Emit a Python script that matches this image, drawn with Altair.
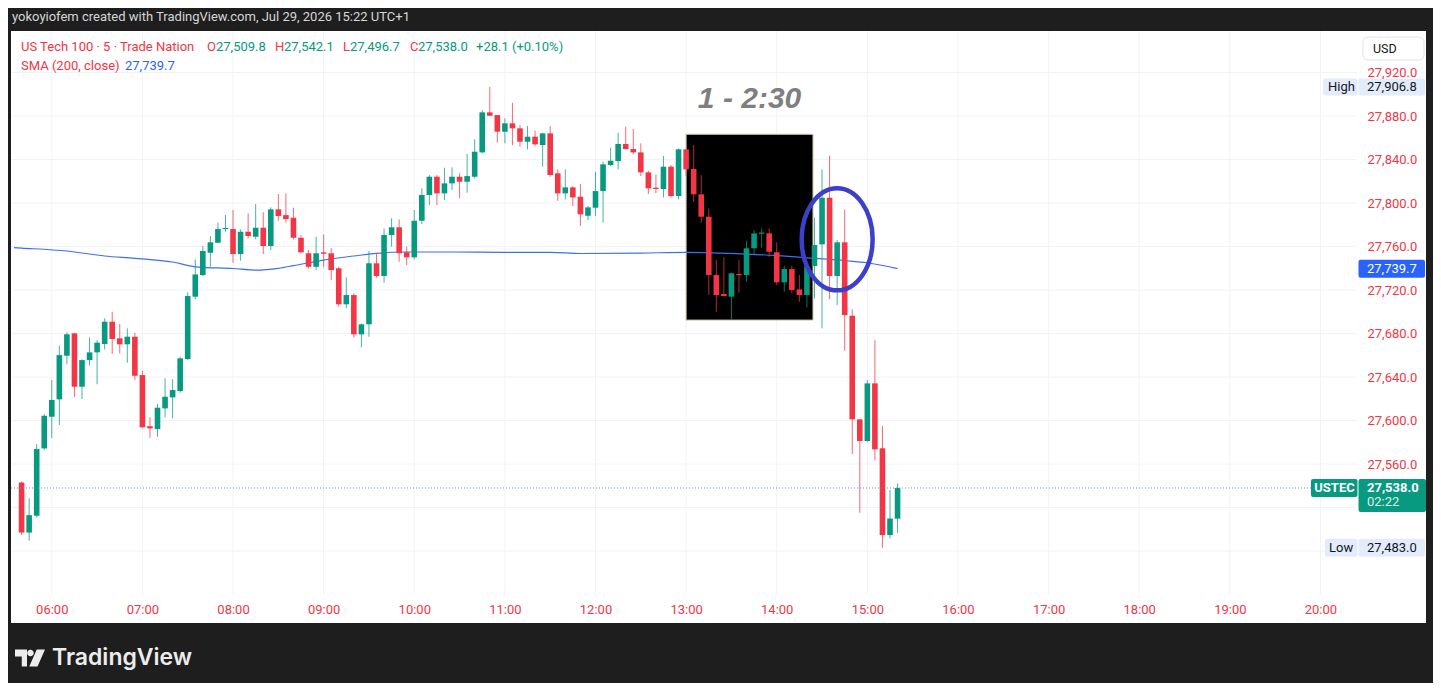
import altair as alt
import pandas as pd

# ---------------- data ----------------
CANDLE_START = "05:40"          # first 5-minute candle
opens = [27543, 27497, 27512.5, 27574.4, 27603.5, 27619.5, 27659.6, 27680.2, 27631.1, 27655.6,
         27662.7, 27670.4, 27690.9, 27675.6, 27670.1, 27677.1, 27641.8, 27594.8, 27592.2, 27611.2,
         27621.3, 27627.1, 27656.6, 27713.9, 27733.8, 27754.3, 27763.5, 27776.1, 27776.1, 27753.1,
         27773.6, 27769.0, 27777.3, 27760.5, 27794.2, 27788.9, 27786.5, 27768.1, 27753.8, 27741.4,
         27754.7, 27753.8, 27740.0, 27706.9, 27715.4, 27679.3, 27688.5, 27744.6, 27732.9, 27770.6,
         27777.7, 27754.7, 27750.1, 27783.7, 27807.4, 27824.2, 27808.9, 27818.1, 27824.2, 27819.6,
         27824.2, 27846.6, 27883.4, 27880.9, 27865.6, 27873.3, 27868.7, 27856.4, 27861.0, 27853.3,
         27864.1, 27827.3, 27808.9, 27814.4, 27805.8, 27788.3, 27795.7, 27811.0, 27835.0, 27838.6,
         27854.3, 27849.7, 27846.6, 27828.2, 27814.1, 27812.9, 27833.4, 27806.4, 27849.4, 27831.3,
         27808.0, 27787.4, 27733.8, 27716.3, 27713.9, 27734.7, 27733.8, 27758.4, 27771.8, 27772.1,
         27754.7, 27727.1, 27739.3, 27720.6, 27715.4, 27742.1, 27762.0, 27804.9, 27732.9, 27763.9,
         27696.4, 27601.1, 27581.2, 27634.2, 27574.5, 27494.7, 27509.8]
highs = [27544, 27528.5, 27578.4, 27606.0, 27637.3, 27668.8, 27681.0, 27680.7, 27656.3, 27676.5,
         27674.0, 27694.0, 27700.0, 27688.7, 27684.8, 27680.7, 27645.8, 27603.0, 27615.2, 27638.8,
         27638.0, 27658.7, 27717.9, 27748.2, 27760.5, 27769.7, 27781.9, 27789.0, 27793.6, 27775.8,
         27790.5, 27799.1, 27791.5, 27796.0, 27808.3, 27808.9, 27795.7, 27770.6, 27756.8, 27769.0,
         27771.2, 27758.4, 27741.4, 27731.7, 27717.0, 27689.4, 27755.9, 27753.8, 27776.7, 27786.0,
         27785.0, 27760.0, 27793.6, 27813.5, 27825.7, 27825.7, 27832.5, 27832.8, 27827.3, 27845.1,
         27858.6, 27885.5, 27906.8, 27880.9, 27877.9, 27892.2, 27871.7, 27870.8, 27866.5, 27864.7,
         27870.8, 27831.0, 27831.0, 27815.6, 27817.5, 27797.2, 27828.8, 27838.0, 27850.9, 27864.6,
         27870.2, 27868.0, 27854.9, 27829.7, 27826.4, 27843.2, 27835.0, 27850.3, 27849.4, 27853.3,
         27825.7, 27795.1, 27747.6, 27750.0, 27736.0, 27747.6, 27765.3, 27775.2, 27776.7, 27776.7,
         27763.9, 27742.4, 27742.4, 27733.8, 27741.4, 27786.5, 27831.0, 27843.5, 27766.0, 27794.2,
         27702.3, 27601.1, 27637.3, 27674.0, 27595.0, 27536.1, 27542.1]
lows = [27495, 27489.5, 27511.0, 27572.8, 27583.9, 27595.9, 27651.7, 27621.9, 27619.8, 27650.4,
        27633.3, 27665.5, 27661.2, 27661.8, 27653.2, 27637.3, 27593.4, 27584.2, 27585.1, 27603.0,
        27602.0, 27625.6, 27655.6, 27711.5, 27732.9, 27741.4, 27763.0, 27773.6, 27745.1, 27747.0,
        27767.5, 27766.6, 27753.1, 27756.8, 27783.7, 27781.9, 27766.6, 27753.8, 27740.0, 27738.4,
        27740.9, 27729.2, 27704.7, 27703.2, 27676.2, 27667.3, 27677.0, 27731.3, 27726.7, 27759.8,
        27746.0, 27743.0, 27748.2, 27780.7, 27798.2, 27798.2, 27802.8, 27812.0, 27804.3, 27809.5,
        27822.7, 27845.7, 27880.3, 27855.5, 27854.9, 27853.3, 27851.8, 27849.4, 27852.4, 27833.4,
        27824.2, 27802.1, 27803.4, 27797.2, 27778.9, 27784.4, 27788.0, 27781.9, 27834.0, 27831.0,
        27849.7, 27844.8, 27824.8, 27808.3, 27808.9, 27805.2, 27805.2, 27803.4, 27824.8, 27801.2,
        27781.9, 27715.4, 27700.0, 27714.0, 27692.4, 27717.5, 27727.6, 27753.1, 27758.9, 27750.6,
        27724.6, 27718.4, 27717.0, 27709.2, 27704.0, 27712.4, 27684.8, 27711.5, 27706.2, 27664.2,
        27569.2, 27515.2, 27580.5, 27563.7, 27483.0, 27491.7, 27496.7]
closes = [27497, 27513.0, 27573.8, 27604.4, 27618.9, 27660.2, 27679.3, 27631.1, 27655.6, 27662.7,
          27671.6, 27690.9, 27675.0, 27670.1, 27677.1, 27641.2, 27593.8, 27592.8, 27611.8, 27621.9,
          27628.1, 27657.2, 27714.5, 27734.4, 27755.9, 27763.9, 27776.1, 27777.0, 27753.1, 27773.6,
          27769.7, 27777.3, 27760.5, 27794.2, 27788.1, 27785.3, 27768.1, 27754.7, 27741.4, 27753.8,
          27753.4, 27738.4, 27706.9, 27715.4, 27679.3, 27688.5, 27744.6, 27732.9, 27770.6, 27777.7,
          27753.8, 27750.1, 27783.7, 27807.4, 27824.2, 27808.9, 27818.1, 27824.2, 27819.6, 27824.8,
          27847.2, 27883.4, 27880.3, 27865.6, 27873.3, 27868.7, 27856.4, 27861.0, 27854.0, 27864.1,
          27825.8, 27808.9, 27814.4, 27805.2, 27789.6, 27796.0, 27811.0, 27835.6, 27838.9, 27854.3,
          27849.7, 27846.6, 27828.2, 27813.5, 27812.9, 27833.4, 27806.4, 27849.4, 27831.0, 27808.0,
          27787.4, 27733.8, 27715.4, 27714.5, 27735.4, 27733.8, 27758.4, 27772.1, 27772.8, 27755.2,
          27727.1, 27739.3, 27720.0, 27715.4, 27741.4, 27761.4, 27804.9, 27732.9, 27763.9, 27697.0,
          27601.1, 27581.2, 27634.2, 27573.5, 27494.7, 27509.9, 27538.0]

sma_times = ["05:35", "05:40", "06:10", "06:35", "06:55", "07:20", "07:35", "08:00", "08:15", "08:30",
             "08:40", "09:00", "09:20", "09:35", "09:55", "10:25", "11:00", "11:30", "11:50",
             "12:30", "13:00", "13:40", "14:00", "14:25", "14:45", "15:00", "15:20"]
sma_vals = [27759.0, 27758.6, 27755.9, 27751.3, 27749.2, 27745.8, 27741.4, 27739.8, 27738.4, 27740.0,
            27742.4, 27747.6, 27751.3, 27753.8, 27755.0, 27755.0, 27754.7, 27754.7, 27753.6,
            27754.0, 27754.7, 27753.1, 27751.7, 27749.2, 27747.1, 27745.1, 27739.7]

price_ticks = [27560, 27600, 27640, 27680, 27720, 27760, 27800, 27840, 27880, 27920]
grid_prices = [27480, 27520, 27560, 27600, 27640, 27680, 27720, 27760, 27800, 27840, 27880, 27920]
time_ticks = ["06:00", "07:00", "08:00", "09:00", "10:00", "11:00", "12:00", "13:00",
              "14:00", "15:00", "16:00", "17:00", "18:00", "19:00", "20:00"]

session_high = 27906.8
session_low = 27483.0
countdown = "02:22"
symbol = "USTEC"
header_title = "US Tech 100 · 5 · Trade Nation"
sma_label = "SMA (200, close)"
credit = "yokoyiofem created with TradingView.com, Jul 29, 2026 15:22 UTC+1"
note_text = "1 - 2:30"
box_times = ["13:00", "14:24"]
box_prices = [27863.2, 27692.4]
ellipse_time = "14:40"
ellipse_price = 27766.6
note_time = "13:42"
note_price = 27895.5

# ---------------- style / layout ----------------
UP = "#089981"
DOWN = "#f23645"
RED_TXT = "#f23645"
BLUE = "#2962ff"
FONT = "Roboto"
W, H = 1346, 564
Y_DOM = [27439.6, 27958.2]
X_DOM = [336.3, 1220.9]
PX = (Y_DOM[1] - Y_DOM[0]) / H  # price per pixel


def mins(s):
    h, m = s.split(":")
    return int(h) * 60 + int(m)


xscale = alt.Scale(domain=X_DOM, nice=False, zero=False)
yscale = alt.Scale(domain=Y_DOM, nice=False, zero=False)
x_axis = alt.Axis(values=[mins(t) for t in time_ticks],
                  labelExpr="(floor(datum.value/60) < 10 ? '0' : '') + floor(datum.value/60) + ':00'",
                  labelColor=RED_TXT, labelFont=FONT, labelFontSize=13, ticks=False, domain=False,
                  grid=False, labelPadding=8, title=None, zindex=1, labelFlush=False,
                  labelOverlap=False)
y_axis = alt.Axis(orient="right", values=price_ticks, format=",.1f", labelColor=RED_TXT,
                  labelFont=FONT, labelFontSize=13, ticks=False, domain=False, grid=False,
                  labelPadding=10, title=None, zindex=1, labelOverlap=False)


def X(f):
    return alt.X(f, type="quantitative", scale=xscale, axis=x_axis)


def Y(f):
    return alt.Y(f, type="quantitative", scale=yscale, axis=y_axis)


one = pd.DataFrame({"a": [0]})
layers = []

# white chart panel
layers.append(alt.Chart(one).mark_rect(color="#ffffff").encode(
    x=alt.value(0), x2=alt.value(1415), y=alt.value(0), y2=alt.value(592)))

# grid
layers.append(alt.Chart(pd.DataFrame({"p": grid_prices})).mark_rule(color="#f2f3f6", strokeWidth=1).encode(
    x=alt.value(0), x2=alt.value(W), y=Y("p")))
layers.append(alt.Chart(pd.DataFrame({"t": [mins(t) for t in time_ticks]})).mark_rule(
    color="#f2f3f6", strokeWidth=1).encode(x=X("t"), y=alt.value(0), y2=alt.value(H)))

# black highlight box
box_df = pd.DataFrame({"t0": [mins(box_times[0])], "t1": [mins(box_times[1])],
                       "p0": [box_prices[0]], "p1": [box_prices[1]]})
layers.append(alt.Chart(box_df).mark_rect(fill="#000000", stroke="#cbbfa8", strokeWidth=1).encode(
    x=X("t0"), x2=alt.X2("t1"), y=Y("p0"), y2=alt.Y2("p1")))

# SMA
sma_df = pd.DataFrame({"t": [mins(t) for t in sma_times], "v": sma_vals})
layers.append(alt.Chart(sma_df).mark_line(color="#3d6ff2", strokeWidth=1.2, interpolate="monotone",
                                          clip=True).encode(
    x=X("t"), y=Y("v")))

# candles
t0 = mins(CANDLE_START)
df = pd.DataFrame({"t": [t0 + 5 * i for i in range(len(opens))], "o": opens, "h": highs,
                   "l": lows, "c": closes})
df["dir"] = ["up" if c >= o else "down" for o, c in zip(df.o, df.c)]
df["bt"] = df[["o", "c"]].max(axis=1)
df["bb"] = df[["o", "c"]].min(axis=1)
mid = (df.bt + df.bb) / 2
small = (df.bt - df.bb) < 1.2 * PX
df.loc[small, "bt"] = mid[small] + 0.6 * PX
df.loc[small, "bb"] = mid[small] - 0.6 * PX
color = alt.Color("dir:N", scale=alt.Scale(domain=["up", "down"], range=[UP, DOWN]), legend=None)

layers.append(alt.Chart(df).mark_rule(strokeWidth=1, opacity=0.75).encode(
    x=X("t"), y=Y("l"), y2=alt.Y2("h"), color=color))
layers.append(alt.Chart(df).mark_bar(size=5.6).encode(
    x=X("t"), y=Y("bb"), y2=alt.Y2("bt"), color=color))

last_close = closes[-1]
# last price dotted line
layers.append(alt.Chart(pd.DataFrame({"p": [last_close]})).mark_rule(
    color="#6a8cd8", strokeDash=[1, 2], strokeWidth=1).encode(
    x=alt.value(0), x2=alt.value(1300), y=Y("p")))

# ellipse annotation
a, b, k = 0.696, 1.0, 0.5523
ka, kb = k * a, k * b
ell_path = (f"M{a},0 C{a},{kb} {ka},{b} 0,{b} C{-ka},{b} {-a},{kb} {-a},0 "
            f"C{-a},{-kb} {-ka},{-b} 0,{-b} C{ka},{-b} {a},{-kb} {a},0 Z")
layers.append(alt.Chart(pd.DataFrame({"t": [mins(ellipse_time)], "p": [ellipse_price]})).mark_point(
    shape=ell_path, filled=False, stroke="#3b3fc9", strokeWidth=4.5, opacity=1, size=10404).encode(
    x=X("t"), y=Y("p")))

# note text
layers.append(alt.Chart(pd.DataFrame({"t": [mins(note_time)], "p": [note_price], "s": [note_text]})).mark_text(
    font="Liberation Sans", fontSize=30, fontStyle="italic", fontWeight="bold", color="#7f7f7f",
    align="center", baseline="middle").encode(x=X("t"), y=Y("p"), text="s:N"))


# --- price scale labels ---
def price_box(price, up, down, x0, x1, fill, stroke=None):
    d = pd.DataFrame({"p0": [price + up * PX], "p1": [price - down * PX]})
    kw = dict(fill=fill, cornerRadius=2)
    if stroke:
        kw["stroke"] = stroke
    return alt.Chart(d).mark_rect(**kw).encode(
        x=alt.value(x0), x2=alt.value(x1), y=Y("p0"), y2=alt.Y2("p1"))


def price_text(price, x, text, col, size=13, weight="normal", align="left", dy=0, opacity=1.0):
    d = pd.DataFrame({"p": [price], "s": [text]})
    return alt.Chart(d).mark_text(font=FONT, fontSize=size, fontWeight=weight, color=col,
                                  align=align, baseline="middle", dy=dy, opacity=opacity).encode(
        x=alt.value(x), y=Y("p"), text="s:N")


def fmt(v):
    return f"{v:,.1f}"


LB = "#e3ecfb"
layers += [
    price_box(session_high, 8.5, 8.5, 1312, 1346.5, LB),
    price_box(session_high, 8.5, 8.5, 1347.5, 1414, LB),
    price_text(session_high, 1317, "High", "#131722"),
    price_text(session_high, 1356, fmt(session_high), "#131722"),
    price_box(sma_vals[-1], 9, 9, 1347.5, 1414, BLUE),
    price_text(sma_vals[-1], 1356, fmt(sma_vals[-1]), "#ffffff"),
    price_box(last_close, 9, 9, 1300, 1346.5, UP),
    price_box(last_close, 9, 24, 1347.5, 1415, UP),
    price_text(last_close, 1323.5, symbol, "#ffffff", weight="bold", align="center"),
    price_text(last_close, 1356, fmt(last_close), "#ffffff", weight="bold"),
    price_text(last_close, 1356, countdown, "#ffffff", dy=14, opacity=0.85),
    price_box(session_low, 9, 9, 1314, 1346.5, LB),
    price_box(session_low, 9, 9, 1347.5, 1414, LB),
    price_text(session_low, 1318, "Low", "#131722"),
    price_text(session_low, 1356, fmt(session_low), "#131722"),
]

# USD button
layers.append(alt.Chart(one).mark_rect(fill="#ffffff", stroke="#e0e3eb", cornerRadius=5).encode(
    x=alt.value(1352), x2=alt.value(1413), y=alt.value(6), y2=alt.value(29)))


def ptext(x, y, text, col, size=13, weight="normal", font=FONT):
    d = pd.DataFrame({"s": [text]})
    return alt.Chart(d).mark_text(font=font, fontSize=size, fontWeight=weight, color=col,
                                  align="left", baseline="middle").encode(
        x=alt.value(x), y=alt.value(y), text="s:N")


layers.append(ptext(1362, 17.5, "USD", "#131722", size=12.5))

# header legend
chg = closes[-1] - closes[-2]
pct = chg / closes[-2] * 100
GREEN_TXT = "#089981"
layers += [
    ptext(1, -14.5, credit, "#d6d6d6", size=13),
    ptext(10, 16, header_title, RED_TXT),
    ptext(196, 16, "O", RED_TXT), ptext(205, 16, fmt(opens[-1]), GREEN_TXT),
    ptext(264, 16, "H", RED_TXT), ptext(273, 16, fmt(highs[-1]), GREEN_TXT),
    ptext(332, 16, "L", RED_TXT), ptext(339, 16, fmt(lows[-1]), GREEN_TXT),
    ptext(399, 16, "C", RED_TXT), ptext(407, 16, fmt(closes[-1]), GREEN_TXT),
    ptext(465, 16, f"{chg:+.1f} ({pct:+.2f}%)", GREEN_TXT),
    ptext(10, 35, sma_label, RED_TXT),
    ptext(114, 35, fmt(sma_vals[-1]), BLUE),
]

# TradingView logo
logo_path = ("M-1,-0.57 H-0.2 V0.57 H-0.55 V-0.1 H-1 Z "
             "M0.25,-0.33 C0.25,-0.2085 0.1515,-0.11 0.03,-0.11 C-0.0915,-0.11 -0.19,-0.2085 -0.19,-0.33 "
             "C-0.19,-0.4515 -0.0915,-0.55 0.03,-0.55 C0.1515,-0.55 0.25,-0.4515 0.25,-0.33 Z "
             "M0.45,-0.57 H1 L0.5,0.57 H-0.05 Z")
layers.append(alt.Chart(one).mark_point(shape=logo_path, filled=True, fill="#ececec", stroke=None,
                                        opacity=1, size=900).encode(
    x=alt.value(19), y=alt.value(627)))
layers.append(ptext(41, 627, "TradingView", "#ececec", size=23, weight=600, font="Inter"))

chart = alt.layer(*layers).properties(
    width=W, height=H,
    autosize=alt.AutoSizeParams(type="none"),
    padding={"left": 3, "top": 23, "right": 76, "bottom": 88},
    background="#1e1e1e",
).configure_view(stroke=None)

chart.save("out.html", embed_options={"renderer": "svg", "actions": False})
